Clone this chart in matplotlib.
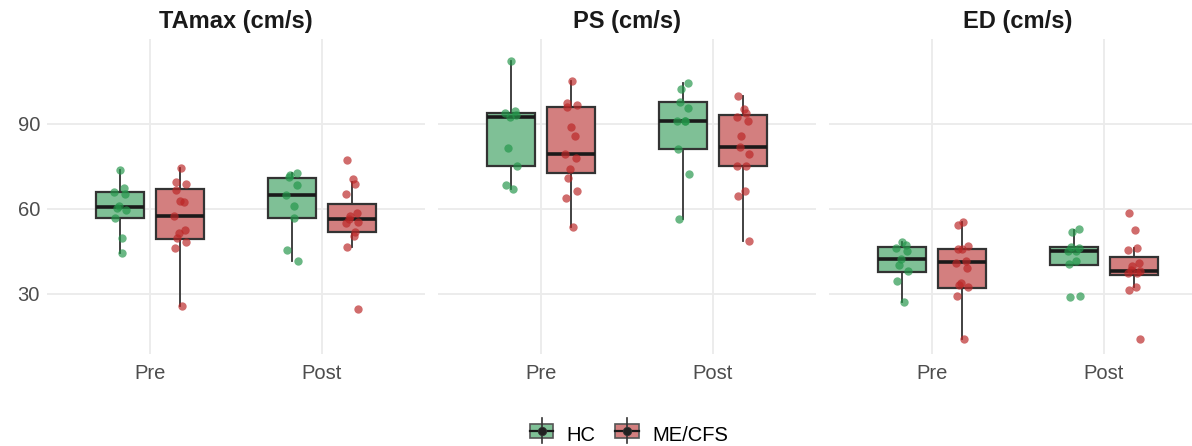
"""
Doppler velocity boxplots, HC vs ME/CFS, Pre / Post
"""

import matplotlib.pyplot as plt
import numpy as np
from matplotlib.legend_handler import HandlerBase
from matplotlib.patches import Rectangle
from matplotlib.lines import Line2D

plt.rcParams["font.family"] = ["Liberation Sans", "DejaVu Sans"]

# ---- data ----
panels = ["TAmax (cm/s)", "PS (cm/s)", "ED (cm/s)"]
times = ["Pre", "Post"]
groups = ["HC", "ME/CFS"]

# individual points
tamax_hc_pre = [73.8, 67.5, 66.1, 65.3, 61.0, 60.5, 59.6, 56.7, 49.6, 44.4]
tamax_me_pre = [74.4, 69.6, 68.8, 66.8, 62.9, 62.5, 57.5, 52.4, 51.4, 49.6, 48.5, 46.1, 25.8]
tamax_hc_post = [72.6, 72.0, 71.2, 68.5, 64.9, 61.2, 56.9, 45.5, 41.6]
tamax_me_post = [77.3, 70.5, 68.8, 65.3, 58.5, 57.6, 56.3, 55.5, 55.0, 51.8, 50.3, 46.4, 24.6]

ps_hc_pre = [112.2, 94.6, 94.0, 93.3, 92.6, 81.4, 75.2, 68.5, 67.0]
ps_me_pre = [105.2, 97.3, 96.7, 96.1, 89.1, 85.8, 79.3, 78.1, 74.1, 71.1, 66.4, 63.8, 53.8]
ps_hc_post = [104.6, 102.3, 97.9, 95.6, 91.1, 91.1, 91.1, 81.1, 72.2, 56.4]
ps_me_post = [100.0, 95.2, 93.8, 92.5, 91.2, 85.6, 82.0, 79.3, 75.2, 75.0, 66.5, 64.4, 48.8]

ed_hc_pre = [48.5, 47.3, 46.1, 45.3, 42.4, 40.2, 38.1, 34.7, 27.0]
ed_me_pre = [55.5, 54.4, 46.9, 46.0, 45.8, 41.8, 41.0, 39.1, 34.0, 33.0, 32.4, 29.3, 14.0]
ed_hc_post = [52.9, 52.0, 46.7, 46.1, 45.2, 45.2, 41.6, 40.5, 29.3, 29.0]
ed_me_post = [58.7, 52.6, 46.1, 45.5, 41.0, 39.9, 38.5, 38.1, 37.5, 37.3, 32.4, 31.4, 14.2]

points = {
    "TAmax (cm/s)": [tamax_hc_pre, tamax_me_pre, tamax_hc_post, tamax_me_post],
    "PS (cm/s)": [ps_hc_pre, ps_me_pre, ps_hc_post, ps_me_post],
    "ED (cm/s)": [ed_hc_pre, ed_me_pre, ed_hc_post, ed_me_post],
}

# box summaries, order: HC Pre, ME/CFS Pre, HC Post, ME/CFS Post
tamax_q1 = [56.7, 49.5, 56.9, 51.8]
tamax_med = [60.8, 57.5, 64.9, 56.3]
tamax_q3 = [66.1, 67.0, 70.8, 61.8]
tamax_lo = [44.4, 25.8, 41.6, 46.4]
tamax_hi = [73.8, 74.4, 72.6, 69.6]

ps_q1 = [75.2, 72.6, 81.1, 75.0]
ps_med = [92.6, 79.3, 91.1, 82.0]
ps_q3 = [94.0, 96.1, 97.9, 93.0]
ps_lo = [67.0, 53.8, 56.4, 48.8]
ps_hi = [112.2, 105.2, 104.6, 100.0]

ed_q1 = [37.9, 32.0, 40.2, 36.7]
ed_med = [42.4, 41.2, 45.2, 38.1]
ed_q3 = [46.5, 45.8, 46.7, 43.0]
ed_lo = [27.0, 14.0, 40.2, 32.6]
ed_hi = [48.5, 55.3, 52.6, 46.1]

boxes = {
    "TAmax (cm/s)": (tamax_q1, tamax_med, tamax_q3, tamax_lo, tamax_hi),
    "PS (cm/s)": (ps_q1, ps_med, ps_q3, ps_lo, ps_hi),
    "ED (cm/s)": (ed_q1, ed_med, ed_q3, ed_lo, ed_hi),
}

point_colors = {"HC": "#23964a", "ME/CFS": "#bb2626"}
fill_colors = {"HC": "#7fc096", "ME/CFS": "#d37f7f"}
edge = "#333333"
grid_c = "#ebebeb"
text_c = "#4d4d4d"

W, H = 1192, 446
fig = plt.figure(figsize=(W / 100, H / 100), dpi=100)

lefts = [47, 438, 829]
pw, top, bottom = 378, 39, 354
dodge = 0.175
bw = 0.28

for i, name in enumerate(panels):
    ax = fig.add_axes([lefts[i] / W, (H - bottom) / H, pw / W, (bottom - top) / H])
    q1, med, q3, lo, hi = boxes[name]
    for j in range(4):
        t, g = j // 2, j % 2
        gname = groups[g]
        pos = t + 1 + (-dodge if g == 0 else dodge)
        stats = [dict(q1=q1[j], med=med[j], q3=q3[j], whislo=lo[j], whishi=hi[j], fliers=[])]
        ax.bxp(
            stats, positions=[pos], widths=bw, patch_artist=True, showfliers=False,
            boxprops=dict(facecolor=fill_colors[gname], edgecolor=edge, linewidth=1.6),
            medianprops=dict(color="#1a1a1a", linewidth=2.6),
            whiskerprops=dict(color=edge, linewidth=1.3),
            capprops=dict(linewidth=0), zorder=3,
        )
        vals = np.array(points[name][j])
        # small fixed jitter
        k = np.arange(len(vals))
        jit = 0.035 * np.sin(k * 2.4 + t + 3 * g)
        ax.scatter(pos + jit, vals, s=36, color=point_colors[gname], alpha=0.68,
                   linewidths=0, zorder=4)

    ax.set_xlim(0.4, 2.6)
    ax.set_ylim(8.8, 120)
    ax.set_xticks([1, 2])
    ax.set_xticklabels(times)
    ax.set_yticks([30, 60, 90])
    ax.set_yticklabels(["30", "60", "90"])
    ax.grid(True, color=grid_c, linewidth=1.3)
    ax.set_axisbelow(True)
    for s in ax.spines.values():
        s.set_visible(False)
    ax.tick_params(length=0, labelsize=14.5, colors=text_c)
    ax.tick_params(axis="x", pad=7)
    ax.tick_params(axis="y", pad=5)
    if i > 0:
        ax.tick_params(axis="y", labelleft=False)
    ax.set_title(name, fontsize=17, fontweight="bold", color="#1a1a1a", pad=8)


class BoxKey(HandlerBase):
    def __init__(self, gname):
        super().__init__()
        self.gname = gname

    def create_artists(self, legend, orig, xd, yd, width, height, fontsize, trans):
        cx, cy = xd + width / 2, yd + height / 2
        bx = Rectangle((xd + 1, yd + 1), width - 2, height - 2,
                       facecolor=fill_colors[self.gname], edgecolor="#555555", lw=1.2, transform=trans)
        vl = Line2D([cx, cx], [yd - 3, yd + height + 3], color=edge, lw=1.2, transform=trans)
        ml = Line2D([xd + 1, xd + width - 1], [cy, cy], color="#1a1a1a", lw=1.6, transform=trans)
        pt = Line2D([cx], [cy], marker="o", markersize=6, color="#222222",
                    markeredgecolor="#333333", markeredgewidth=0.6, transform=trans)
        return [bx, vl, ml, pt]


handles = [Rectangle((0, 0), 1, 1), Rectangle((0, 0), 1, 1)]
fig.legend(handles, groups, handler_map={handles[0]: BoxKey("HC"), handles[1]: BoxKey("ME/CFS")},
           loc="center", bbox_to_anchor=(0.527, 1 - 435 / H), ncol=2, frameon=False,
           fontsize=14.5, handlelength=1.3, handleheight=0.9, handletextpad=0.6, columnspacing=0.9)

fig.savefig("out.png", dpi=100)
